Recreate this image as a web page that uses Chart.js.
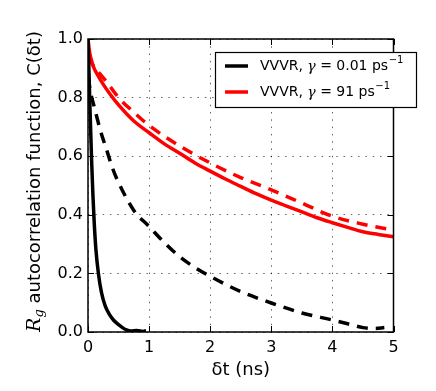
<!DOCTYPE html>
<html>
<head>
<meta charset="utf-8">
<script src="https://cdn.jsdelivr.net/npm/chart.js@4/dist/chart.umd.min.js"></script>
<style>
html,body{margin:0;padding:0;background:#fff;}
#wrap{width:436px;height:391px;position:relative;}
</style>
</head>
<body>
<div id="wrap"><canvas id="c" width="436" height="391"></canvas></div>
<script>
// ---- data ----
const xTickValues = [0, 1, 2, 3, 4, 5];
const xTickLabels = ['0', '1', '2', '3', '4', '5'];
const yTickValues = [0, 0.2, 0.4, 0.6, 0.8, 1.0];
const yTickLabels = ['0.0', '0.2', '0.4', '0.6', '0.8', '1.0'];

const blackSolidT = [0, 0.01, 0.02, 0.03, 0.045, 0.06, 0.08, 0.1, 0.13, 0.17, 0.22, 0.28, 0.35, 0.42, 0.5, 0.57, 0.63, 0.7, 0.8, 0.9, 0.95];
const blackSolidC = [1.0, 0.93, 0.86, 0.78, 0.68, 0.58, 0.47, 0.38, 0.28, 0.2, 0.135, 0.09, 0.06, 0.04, 0.025, 0.014, 0.007, 0.003, 0.005, 0.002, 0.004];

const redSolidT = [0, 0.03, 0.06, 0.1, 0.15, 0.25, 0.35, 0.5, 0.75, 1, 1.25, 1.5, 1.75, 2, 2.25, 2.5, 2.75, 3, 3.25, 3.5, 3.75, 4, 4.25, 4.5, 4.75, 5];
const redSolidC = [1.0, 0.95, 0.925, 0.9, 0.88, 0.845, 0.815, 0.775, 0.72, 0.68, 0.642, 0.61, 0.577, 0.549, 0.522, 0.497, 0.472, 0.45, 0.43, 0.41, 0.39, 0.373, 0.357, 0.342, 0.333, 0.325];

const blackDashT = [0, 0.05, 0.1, 0.2, 0.3, 0.4, 0.5, 0.75, 1, 1.25, 1.5, 1.75, 2, 2.5, 3, 3.5, 4, 4.25, 4.5, 4.7, 4.85];
const blackDashC = [0.87, 0.81, 0.77, 0.69, 0.625, 0.56, 0.51, 0.415, 0.36, 0.305, 0.257, 0.22, 0.19, 0.138, 0.099, 0.065, 0.041, 0.028, 0.015, 0.012, 0.015];

const redDashT = [0, 0.05, 0.1, 0.2, 0.3, 0.5, 0.75, 1, 1.5, 2, 2.5, 3, 3.5, 4, 4.5, 5];
const redDashC = [0.94, 0.92, 0.905, 0.88, 0.855, 0.8, 0.75, 0.705, 0.635, 0.577, 0.527, 0.485, 0.44, 0.395, 0.368, 0.348];

const legendLabels = ['VVVR, \u03B3 = 0.01 ps', 'VVVR, \u03B3 = 91 ps'];
const xTitle = '\u03B4t (ns)';

function pts(t, c) { return t.map((v, i) => ({x: v, y: c[i]})); }

const FONT = "'DejaVu Sans', sans-serif";
const GRID_COLOR = 'rgba(0,0,0,0.6)';
const GRID_DASH = [1.5, 5.8];

// inward ticks, frame, y title, legend
const decor = {
  id: 'decor',
  afterDatasetsDraw(chart) {
    const {ctx, chartArea: a, scales: {x, y}} = chart;
    ctx.save();
    ctx.strokeStyle = '#000';
    ctx.lineWidth = 1;
    const tl = 6;
    ctx.beginPath();
    xTickValues.forEach(v => {
      const px = Math.round(x.getPixelForValue(v)) + 0.5;
      ctx.moveTo(px, a.bottom); ctx.lineTo(px, a.bottom - tl);
      ctx.moveTo(px, a.top); ctx.lineTo(px, a.top + tl);
    });
    yTickValues.forEach(v => {
      const py = Math.round(y.getPixelForValue(v)) + 0.5;
      ctx.moveTo(a.left, py); ctx.lineTo(a.left + tl, py);
      ctx.moveTo(a.right, py); ctx.lineTo(a.right - tl, py);
    });
    ctx.stroke();
    // frame
    ctx.lineWidth = 1.5;
    ctx.strokeRect(a.left, a.top, a.right - a.left, a.bottom - a.top);

    // y axis title: R_g autocorrelation function, C(δt)
    ctx.fillStyle = '#000';
    ctx.translate(35, (a.top + a.bottom) / 2 - 4);
    ctx.rotate(-Math.PI / 2);
    ctx.textBaseline = 'middle';
    const p1 = 'R', p2 = 'g', p3 = ' autocorrelation function, C(\u03B4t)';
    const f1 = "italic 19px 'DejaVu Serif', serif";
    const f2 = "italic 13px 'DejaVu Serif', serif";
    const f3 = "18px " + FONT;
    ctx.font = f1; const w1 = ctx.measureText(p1).width;
    ctx.font = f2; const w2 = ctx.measureText(p2).width;
    ctx.font = f3; const w3 = ctx.measureText(p3).width;
    let sx = -(w1 + w2 + w3) / 2;
    ctx.textAlign = 'left';
    ctx.font = f1; ctx.fillText(p1, sx, 0); sx += w1;
    ctx.font = f2; ctx.fillText(p2, sx, 5); sx += w2;
    ctx.font = f3; ctx.fillText(p3, sx, 0);
    ctx.restore();

    // legend
    ctx.save();
    const bx = 215, by = 52, bw = 201, bh = 55;
    ctx.fillStyle = '#fff';
    ctx.fillRect(bx, by, bw, bh);
    ctx.strokeStyle = '#000';
    ctx.lineWidth = 1.2;
    ctx.strokeRect(bx + 0.5, by + 0.5, bw, bh);
    const cols = [chart.data.datasets[0].borderColor, chart.data.datasets[1].borderColor];
    const rows = [66, 92];
    rows.forEach((ry, i) => {
      ctx.strokeStyle = cols[i];
      ctx.lineWidth = 3.5;
      ctx.beginPath(); ctx.moveTo(225, ry); ctx.lineTo(248, ry); ctx.stroke();
      ctx.fillStyle = '#000';
      ctx.textBaseline = 'middle';
      ctx.textAlign = 'left';
      const main = legendLabels[i];
      const idx = main.indexOf('\u03B3');
      const a1 = main.slice(0, idx), g = '\u03B3', a2 = main.slice(idx + 1);
      let tx = 260;
      ctx.font = '14px ' + FONT; ctx.fillText(a1, tx, ry); tx += ctx.measureText(a1).width;
      ctx.font = "italic 14px 'DejaVu Serif', serif"; ctx.fillText(g, tx, ry + 1); tx += ctx.measureText(g).width;
      ctx.font = '14px ' + FONT; ctx.fillText(a2, tx, ry); tx += ctx.measureText(a2).width;
      ctx.font = '10px ' + FONT; ctx.fillText('\u22121', tx + 0.5, ry - 6);
    });
    ctx.restore();
  }
};

new Chart(document.getElementById('c'), {
  type: 'line',
  data: {
    datasets: [
      {label: 'black solid', data: pts(blackSolidT, blackSolidC), borderColor: '#000000', borderWidth: 3.5, order: 1},
      {label: 'red solid', data: pts(redSolidT, redSolidC), borderColor: '#ff0000', borderWidth: 3.5, order: 2},
      {label: 'black dashed', data: pts(blackDashT, blackDashC), borderColor: '#000000', borderWidth: 3.5, borderDash: [11, 8], order: 3},
      {label: 'red dashed', data: pts(redDashT, redDashC), borderColor: '#ff0000', borderWidth: 3.5, borderDash: [11, 8], order: 4}
    ]
  },
  options: {
    responsive: false,
    animation: false,
    devicePixelRatio: 1,
    elements: {point: {radius: 0}, line: {tension: 0.3, cubicInterpolationMode: 'monotone', borderCapStyle: 'butt', borderJoinStyle: 'round'}},
    layout: {padding: {left: 0, top: 39, right: 42.5, bottom: 0}},
    plugins: {legend: {display: false}, tooltip: {enabled: false}},
    scales: {
      x: {
        type: 'linear', min: 0, max: 5,
        afterFit(s) { s.height = 59; },
        afterBuildTicks(s) { s.ticks = xTickValues.map(v => ({value: v})); },
        ticks: {callback: (v) => xTickLabels[xTickValues.indexOf(v)], color: '#000', font: {family: FONT, size: 16}, padding: 6, maxRotation: 0},
        grid: {color: GRID_COLOR, lineWidth: 1, drawTicks: false},
        border: {display: false, dash: GRID_DASH},
        title: {display: true, text: xTitle, color: '#000', font: {family: FONT, size: 18}, padding: {top: 0, bottom: 10}}
      },
      y: {
        type: 'linear', min: 0, max: 1,
        afterFit(s) { s.width = 88; },
        afterBuildTicks(s) { s.ticks = yTickValues.map(v => ({value: v})); },
        ticks: {callback: (v) => yTickLabels[yTickValues.findIndex(t => Math.abs(t - v) < 1e-9)], color: '#000', font: {family: FONT, size: 16}, padding: 5},
        grid: {color: GRID_COLOR, lineWidth: 1, drawTicks: false},
        border: {display: false, dash: GRID_DASH}
      }
    }
  },
  plugins: [decor]
});
</script>
</body>
</html>
